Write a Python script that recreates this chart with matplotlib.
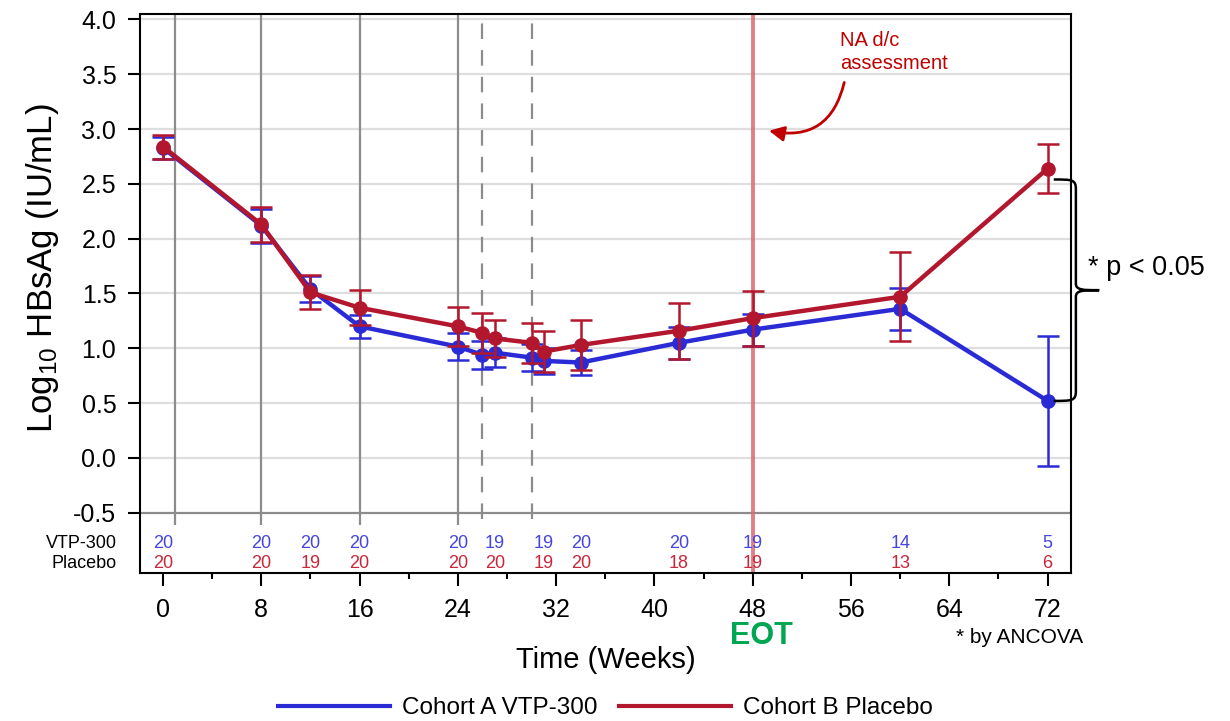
"""
Log10 HBsAg over time, VTP-300 vs Placebo
"""
import matplotlib
matplotlib.use("Agg")
import matplotlib.pyplot as plt
from matplotlib.lines import Line2D
from matplotlib.path import Path
from matplotlib.patches import PathPatch
from matplotlib.ticker import MultipleLocator

plt.rcParams['font.family'] = ['Liberation Sans', 'DejaVu Sans']
plt.rcParams['mathtext.default'] = 'regular'

blue = '#2B2BD6'
red = '#B3172E'

# data
weeks = [0, 8, 12, 16, 24, 26, 27, 30, 31, 34, 42, 48, 60, 72]
vtp_mean = [2.83, 2.12, 1.54, 1.20, 1.015, 0.94, 0.96, 0.915, 0.885, 0.87, 1.05, 1.17, 1.36, 0.52]
vtp_err = [0.10, 0.155, 0.12, 0.105, 0.12, 0.125, 0.13, 0.12, 0.12, 0.115, 0.145, 0.145, 0.19, 0.59]
pbo_mean = [2.84, 2.13, 1.51, 1.37, 1.20, 1.14, 1.09, 1.05, 0.97, 1.03, 1.16, 1.275, 1.47, 2.64]
pbo_err = [0.11, 0.16, 0.155, 0.16, 0.18, 0.18, 0.17, 0.18, 0.19, 0.225, 0.255, 0.25, 0.405, 0.22]

count_weeks = [0, 8, 12, 16, 24, 27, 31, 34, 42, 48, 60, 72]
vtp_n = [20, 20, 20, 20, 20, 19, 19, 20, 20, 19, 14, 5]
pbo_n = [20, 20, 19, 20, 20, 20, 19, 20, 18, 19, 13, 6]

solid_lines = [1, 8, 16, 24]
dashed_lines = [26, 30]
eot_week = 48

fig = plt.figure(figsize=(12.3, 7.21), dpi=100)
ax = fig.add_axes([0.1138, 0.2053, 0.7569, 0.7753])
ax.set_xlim(-1.87, 73.9)
ax.set_ylim(-1.05, 4.05)

# grid
for v in [0.0, 0.5, 1.0, 1.5, 2.0, 2.5, 3.0, 3.5, 4.0]:
    ax.axhline(v, color='#DEDEDE', lw=1.6, zorder=0)
ax.axhline(-0.5, color='#8C8C8C', lw=1.6, zorder=1)

ax.vlines(solid_lines, -0.61, 4.05, color='#8C8C8C', lw=1.6, zorder=1)
ax.vlines(dashed_lines, -0.56, 4.05, color='#8C8C8C', lw=1.6,
          linestyles=(0, (7, 5)), zorder=1)
ax.axvline(eot_week, color='#D96A70', lw=2.8, alpha=0.85, zorder=1)

# series
ax.errorbar(weeks, vtp_mean, yerr=vtp_err, color=blue, lw=3.2, marker='o', ms=9.5,
            elinewidth=1.8, capsize=8, capthick=1.8, zorder=3)
ax.errorbar(weeks, pbo_mean, yerr=pbo_err, color=red, lw=3.2, marker='o', ms=9.5,
            elinewidth=1.8, capsize=8, capthick=1.8, zorder=4)

# counts
for w, a, b in zip(count_weeks, vtp_n, pbo_n):
    ax.text(w, -0.78, str(a), color='#4545E0', fontsize=13, ha='center', va='center')
    ax.text(w, -0.965, str(b), color='#C8283A', fontsize=13, ha='center', va='center')
ax.text(-0.025, -0.78, 'VTP-300', transform=ax.get_yaxis_transform(), fontsize=13,
        ha='right', va='center')
ax.text(-0.025, -0.965, 'Placebo', transform=ax.get_yaxis_transform(), fontsize=13,
        ha='right', va='center')

# axes
ax.set_xticks(range(0, 73, 8))
ax.xaxis.set_minor_locator(MultipleLocator(4))
ax.set_yticks([-0.5, 0, 0.5, 1, 1.5, 2, 2.5, 3, 3.5, 4])
ax.set_yticklabels(['-0.5', '0.0', '0.5', '1.0', '1.5', '2.0', '2.5', '3.0', '3.5', '4.0'])
ax.tick_params(axis='both', which='major', direction='out', length=9, width=1.5,
               labelsize=18)
ax.tick_params(axis='x', which='major', pad=9)
ax.tick_params(axis='y', which='major', pad=8)
ax.tick_params(axis='x', which='minor', direction='out', length=4.5, width=1.5)
for s in ax.spines.values():
    s.set_linewidth(1.5)

ax.set_xlabel('Time (Weeks)', fontsize=21, va='center')
ax.xaxis.set_label_coords(0.5, -0.155)
ax.set_ylabel('Log$_{10}$ HBsAg (IU/mL)', fontsize=25, va='center')
ax.yaxis.set_label_coords(-0.105, 0.545)

# annotations
ax.text(48.7, -0.113, 'EOT', transform=ax.get_xaxis_transform(), color='#00A651',
        fontsize=22, fontweight='bold', ha='center', va='center')
ax.text(69.7, -0.115, '* by ANCOVA', transform=ax.get_xaxis_transform(),
        fontsize=15, ha='center', va='center')

ax.text(55.1, 3.70, 'NA d/c\nassessment', color='#C00000', fontsize=14.5,
        ha='left', va='center', linespacing=1.25)
ax.annotate('', xy=(49.1, 2.99), xytext=(55.5, 3.45),
            arrowprops=dict(arrowstyle='-|>,head_length=0.9,head_width=0.45',
                            color='#C00000', lw=2,
                            connectionstyle='arc3,rad=-0.5'))

# brace for p-value at week 72
top = pbo_mean[-1] - 0.1
bot = vtp_mean[-1]
mid = (top + bot) / 2
x0, x1, x2 = 72.5, 74.3, 76.2
verts = [(x0, top), (x1 - 0.3, top), (x1, top), (x1, top - 0.09),
         (x1, mid + 0.06),
         (x1, mid), (x1 + 0.6, mid), (x2, mid),
         (x1 + 0.6, mid), (x1, mid), (x1, mid - 0.06),
         (x1, bot + 0.09),
         (x1, bot), (x1 - 0.3, bot), (x0, bot)]
codes = [Path.MOVETO, Path.CURVE4, Path.CURVE4, Path.CURVE4,
         Path.LINETO,
         Path.CURVE4, Path.CURVE4, Path.CURVE4,
         Path.CURVE4, Path.CURVE4, Path.CURVE4,
         Path.LINETO,
         Path.CURVE4, Path.CURVE4, Path.CURVE4]
ax.add_patch(PathPatch(Path(verts, codes), fill=False, lw=1.8, color='black',
                       clip_on=False, zorder=5))
ax.text(75.3, 1.73, '* p < 0.05', fontsize=19.5, ha='left', va='center', clip_on=False)

# legend
handles = [Line2D([], [], color=blue, lw=3), Line2D([], [], color=red, lw=3)]
fig.legend(handles, ['Cohort A VTP-300', 'Cohort B Placebo'], loc='center',
           bbox_to_anchor=(0.4923, 0.018), ncol=2, frameon=False, fontsize=17.5,
           handlelength=4.6, handletextpad=0.5, columnspacing=0.9)

plt.savefig('out.png', dpi=100)
